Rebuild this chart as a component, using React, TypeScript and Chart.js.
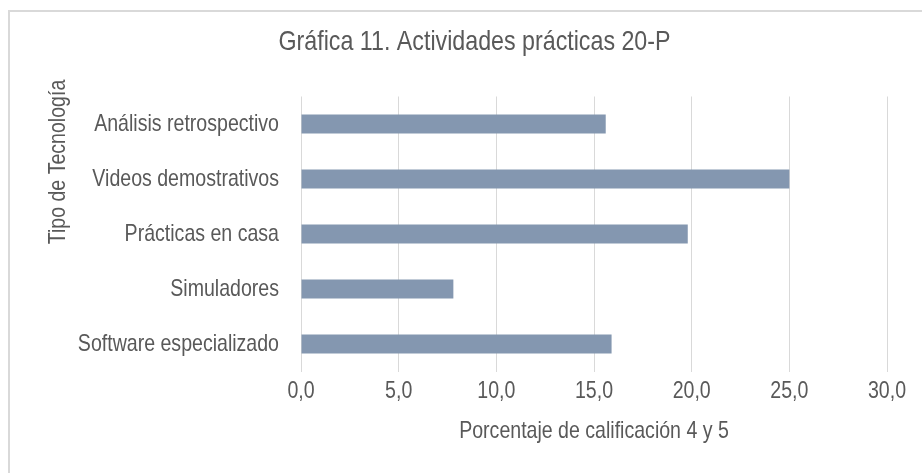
import React, { useEffect, useRef } from "react";
import { Chart, registerables } from "chart.js";

Chart.register(...registerables);

const chartTitle = "Gráfica 11. Actividades prácticas 20-P";
const yAxisTitle = "Tipo de Tecnología";
const xAxisTitle = "Porcentaje de calificación 4 y 5";
const categories = [
  "Análisis retrospectivo",
  "Videos demostrativos",
  "Prácticas en casa",
  "Simuladores",
  "Software especializado",
];
const values = [15.6, 25.0, 19.8, 7.8, 15.9];
const xMin = 0;
const xMax = 30;
const xStep = 5;

const FONT = "'Liberation Sans', Arial, sans-serif";
const TEXT = "#595959";
const NARROW = 0.815; // horizontal compression to imitate a narrow face

function makeNarrow(ctx: any) {
  if (ctx.__narrow) return;
  ctx.__narrow = true;
  const fill = ctx.fillText.bind(ctx);
  const measure = ctx.measureText.bind(ctx);
  ctx.fillText = (text: string, x: number, y: number, maxWidth?: number) => {
    ctx.save();
    ctx.translate(x, y);
    ctx.scale(NARROW, 1);
    if (maxWidth !== undefined && maxWidth !== null) fill(text, 0, 0, maxWidth / NARROW);
    else fill(text, 0, 0);
    ctx.restore();
  };
  ctx.measureText = (text: string) => {
    const m = measure(text);
    return {
      width: m.width * NARROW,
      actualBoundingBoxLeft: m.actualBoundingBoxLeft * NARROW,
      actualBoundingBoxRight: m.actualBoundingBoxRight * NARROW,
      actualBoundingBoxAscent: m.actualBoundingBoxAscent,
      actualBoundingBoxDescent: m.actualBoundingBoxDescent,
      fontBoundingBoxAscent: m.fontBoundingBoxAscent,
      fontBoundingBoxDescent: m.fontBoundingBoxDescent,
    };
  };
}

const framePlugin = {
  id: "frame",
  beforeDraw(chart: any) {
    const { ctx, width, height } = chart;
    ctx.save();
    ctx.fillStyle = "#ffffff";
    ctx.fillRect(0, 0, width, height);
    ctx.fillStyle = "#d9d9d9";
    ctx.fillRect(8, 10, width - 8, 2);
    ctx.fillRect(8, 10, 2, height - 10);
    ctx.restore();
  },
  afterDraw(chart: any) {
    const { ctx } = chart;
    ctx.save();
    ctx.translate(58, 162);
    ctx.rotate(-Math.PI / 2);
    ctx.font = `24px ${FONT}`;
    ctx.fillStyle = TEXT;
    ctx.textAlign = "center";
    ctx.textBaseline = "middle";
    ctx.fillText(yAxisTitle, 0, 0);
    ctx.restore();
  },
};

export default function App() {
  const ref = useRef<HTMLCanvasElement | null>(null);
  useEffect(() => {
    if (!ref.current) return;
    makeNarrow(ref.current.getContext("2d"));
    const chart = new Chart(ref.current, {
      type: "bar",
      data: {
        labels: categories,
        datasets: [
          {
            data: values,
            backgroundColor: "#8497b0",
            borderWidth: 0,
            barPercentage: 0.345,
            categoryPercentage: 1,
          },
        ],
      },
      options: {
        indexAxis: "y",
        responsive: false,
        animation: false,
        devicePixelRatio: 1,
        layout: { padding: { left: 62, right: 35, top: 11, bottom: 0 } },
        plugins: {
          legend: { display: false },
          tooltip: { enabled: false },
          title: {
            display: true,
            text: chartTitle,
            color: TEXT,
            font: { family: FONT, size: 28.5, weight: "normal" },
            padding: { top: 14, bottom: 37.3 },
          },
        },
        scales: {
          x: {
            min: xMin,
            max: xMax,
            ticks: {
              stepSize: xStep,
              color: TEXT,
              font: { family: FONT, size: 24 },
              padding: 5,
              callback: (v: any) => Number(v).toFixed(1).replace(".", ","),
            },
            grid: { color: "#d9d9d9", lineWidth: 1, drawTicks: false },
            border: { display: false },
            title: {
              display: true,
              text: xAxisTitle,
              color: TEXT,
              font: { family: FONT, size: 24 },
              padding: { top: 0, bottom: 27.6 },
            },
            afterFit: (scale: any) => {
              scale.height = 101.5;
            },
          },
          y: {
            ticks: {
              color: TEXT,
              font: { family: FONT, size: 24 },
              padding: 22,
            },
            grid: { display: false, drawTicks: false },
            border: { display: false },
            afterFit: (scale: any) => {
              scale.width = 239;
            },
          },
        },
      },
      plugins: [framePlugin],
    });
    return () => chart.destroy();
  }, []);
  return (
    <div style={{ position: "fixed", left: 0, top: 0, width: 922, height: 473 }}>
      <canvas ref={ref} width={922} height={473} style={{ width: 922, height: 473 }} />
    </div>
  );
}
